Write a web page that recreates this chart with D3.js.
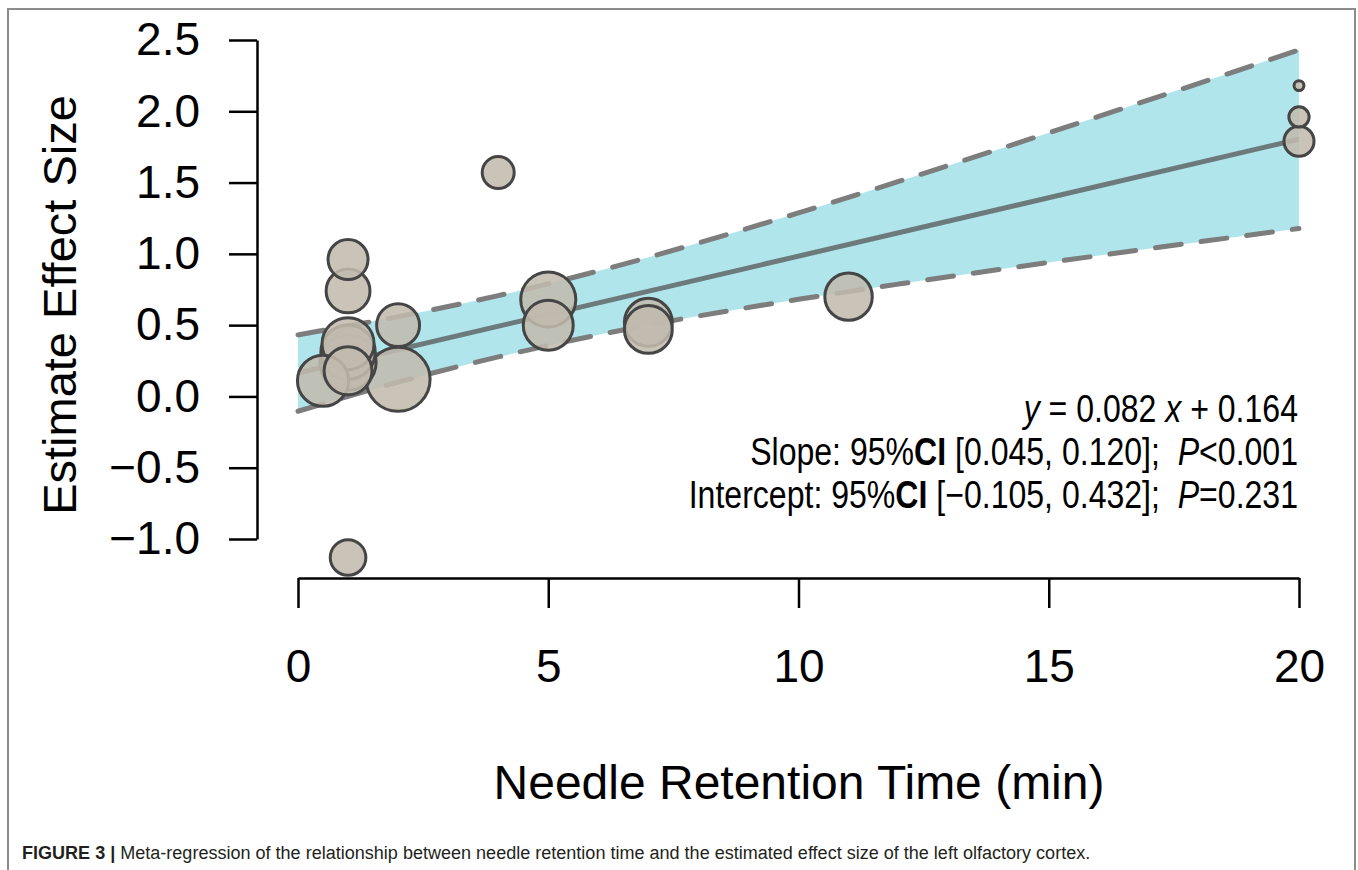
<!DOCTYPE html>
<html>
<head>
<meta charset="utf-8">
<script src="https://cdn.jsdelivr.net/npm/d3@7"></script>
<style>
  body { margin: 0; background: #fff; }
  svg { display: block; font-family: "Liberation Sans", Arial, sans-serif; }
</style>
</head>
<body>
<svg id="chart" width="1358" height="870"></svg>
<script>
// study points: retention time, effect size, weight
const studyX = [20, 20, 20, 4, 1, 1, 2, 1, 1, 1, 1, 0.5, 2, 1, 5, 5, 7, 7, 11];
const studyY = [2.18, 1.96, 1.79, 1.57, 0.96, 0.74, 0.50, 0.37, 0.31, 0.24, 0.18, 0.11, 0.12, -1.13, 0.68, 0.50, 0.52, 0.47, 0.70];
const studyW = [2.4, 10, 22, 25, 39, 47, 45, 66, 72, 77, 56, 64, 100, 31, 74, 61, 56, 56, 55];

// regression
const slope = 0.082, intercept = 0.164;
const slopeCI = ["0.045", "0.120"], interceptCI = ["\u22120.105", "0.432"];
const slopeP = "<0.001", interceptP = "=0.231";

// confidence band read at even x
const bandX = [0, 2, 4, 6, 8, 10, 12, 14, 16, 18, 20];
const bandUpper = [0.432, 0.56, 0.707, 0.88, 1.076, 1.287, 1.508, 1.734, 1.964, 2.196, 2.43];
const bandLower = [-0.104, 0.10, 0.277, 0.432, 0.564, 0.681, 0.788, 0.890, 0.988, 1.084, 1.178];

const xTicks = [0, 5, 10, 15, 20];
const yTicks = [-1.0, -0.5, 0.0, 0.5, 1.0, 1.5, 2.0, 2.5];

const svg = d3.select("#chart");

// figure frame
svg.append("rect")
  .attr("x", 8).attr("y", 9).attr("width", 1347).attr("height", 900)
  .attr("fill", "none").attr("stroke", "#8c8c8c").attr("stroke-width", 2);

const x = d3.scaleLinear().domain([0, 20]).range([298, 1299]);
const y = d3.scaleLinear().domain([-1, 2.5]).range([539, 40]);
const r = d3.scaleSqrt().domain([0, 100]).range([0, 32]);

const band = bandX.map((d, i) => ({ x: d, lo: bandLower[i], hi: bandUpper[i] }));

svg.append("path")
  .datum(band)
  .attr("fill", "#b0e5ec")
  .attr("d", d3.area().x(d => x(d.x)).y0(d => y(d.lo)).y1(d => y(d.hi)).curve(d3.curveMonotoneX));

["hi", "lo"].forEach(k => {
  svg.append("path")
    .datum(band)
    .attr("fill", "none")
    .attr("stroke", "#7d7d7d")
    .attr("stroke-width", 5)
    .attr("stroke-dasharray", "26,20")
    .attr("stroke-linecap", "round")
    .attr("d", d3.line().x(d => x(d.x)).y(d => y(d[k])).curve(d3.curveMonotoneX));
});

svg.append("line")
  .attr("x1", x(0)).attr("y1", y(intercept))
  .attr("x2", x(20)).attr("y2", y(intercept + slope * 20))
  .attr("stroke", "#555").attr("stroke-opacity", 0.75).attr("stroke-width", 5);

const pts = studyX.map((d, i) => ({ x: d, y: studyY[i], w: studyW[i] }))
  .sort((a, b) => b.w - a.w);

svg.append("g").selectAll("circle")
  .data(pts)
  .join("circle")
  .attr("cx", d => x(d.x))
  .attr("cy", d => y(d.y))
  .attr("r", d => r(d.w))
  .attr("fill", "#c1baad")
  .attr("fill-opacity", 0.87)
  .attr("stroke", "#454545")
  .attr("stroke-width", 3);

// axes
const yAxis = svg.append("g")
  .attr("transform", "translate(257,0)")
  .call(d3.axisLeft(y).tickValues(yTicks).tickFormat(d3.format(".1f"))
    .tickSize(28).tickSizeOuter(0).tickPadding(29));

const xAxis = svg.append("g")
  .attr("transform", "translate(0,578)")
  .call(d3.axisBottom(x).tickValues(xTicks).tickFormat(d3.format("d"))
    .tickSize(30).tickSizeOuter(0).tickPadding(41));

[yAxis, xAxis].forEach(g => {
  g.select(".domain").attr("stroke", "#000").attr("stroke-width", 2.5);
  g.selectAll(".tick line").attr("stroke", "#000").attr("stroke-width", 2.5);
  g.selectAll(".tick text")
    .attr("fill", "#000")
    .style("font-size", "46px")
    .style("font-family", "'Liberation Sans', Arial, sans-serif");
});

svg.append("text")
  .attr("transform", "translate(76,305) rotate(-90)")
  .attr("text-anchor", "middle")
  .style("font-size", "47px")
  .text("Estimate Effect Size");

svg.append("text")
  .attr("x", 799).attr("y", 799)
  .attr("text-anchor", "middle")
  .style("font-size", "48px")
  .text("Needle Retention Time (min)");

// regression annotation
const note = svg.append("g").attr("transform", "translate(1298,0)");
const noteLines = [
  [["y", "italic"], [" = " + slope.toFixed(3) + " "], ["x", "italic"], [" + " + intercept.toFixed(3)]],
  [["Slope: 95%"], ["CI", "bold"], [" [" + slopeCI.join(", ") + "];\u00a0\u00a0"], ["P", "italic"], [slopeP]],
  [["Intercept: 95%"], ["CI", "bold"], [" [" + interceptCI.join(", ") + "];\u00a0\u00a0"], ["P", "italic"], [interceptP]]
];
const noteText = noteLines.map((parts, i) => {
  const t = note.append("text")
    .attr("y", 422 + i * 43)
    .attr("text-anchor", "end")
    .style("font-size", "38px")
    .style("font-family", "'Liberation Sans Narrow', 'Liberation Sans', Arial, sans-serif");
  parts.forEach(p => {
    const s = t.append("tspan").text(p[0]);
    if (p[1] === "italic") s.style("font-style", "italic");
    if (p[1] === "bold") s.style("font-weight", "bold");
  });
  return t;
});
const noteScale = 548 / noteText[1].node().getComputedTextLength();
note.attr("transform", `translate(1298,0) scale(${noteScale},1)`);

// caption
const cap = svg.append("g").attr("transform", "translate(22,0)");
const capText = cap.append("text")
  .attr("y", 859)
  .attr("fill", "#231f20")
  .style("font-size", "19px");
capText.append("tspan").style("font-weight", "bold").text("FIGURE 3 |");
capText.append("tspan").text(" Meta-regression of the relationship between needle retention time and the estimated effect size of the left olfactory cortex.");
const capScale = 1069 / capText.node().getComputedTextLength();
cap.attr("transform", `translate(22,0) scale(${capScale},1)`);
</script>
</body>
</html>
